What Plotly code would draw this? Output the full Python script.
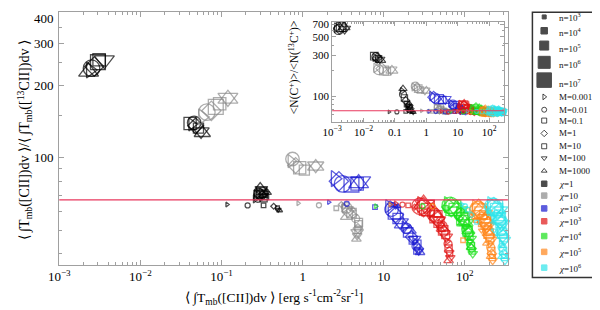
import plotly.graph_objects as go
import numpy as np

# ---------------- data ----------------
M_values = [0.001, 0.01, 0.1, 1, 10, 100, 1000]
n_exponents = [3, 4, 5, 6, 7]
chi_labels = ["1", "10", "10<sup>2</sup>", "10<sup>3</sup>", "10<sup>4</sup>", "10<sup>5</sup>", "10<sup>6</sup>"]
isotope_ratio = 67

# every colour group: 5 clusters (n = 1e7, 1e6, 1e5, 1e4, 1e3), each with the 7 masses in M_values order
cluster_n = [7, 6, 5, 4, 3]

# chi = 1
main_x_chi1 = [0.0024, 0.0025, 0.0030, 0.0027, 0.0031, 0.0036, 0.0023,
               0.043, 0.046, 0.041, 0.048, 0.052, 0.056, 0.058,
               0.27, 0.29, 0.31, 0.30, 0.33, 0.31, 0.30,
               0.26, 0.28, 0.33, 0.32, 0.35, 0.34, 0.36,
               0.117, 0.21, 0.33, 0.44, 0.49, 0.50, 0.52]
main_y_chi1 = [232, 236, 250, 240, 256, 255, 228,
               138, 140, 139, 136, 133, 129, 127,
               70, 71, 72, 70.5, 71, 74, 75,
               67.5, 68, 68, 70, 69, 71, 72,
               64, 63.5, 63.5, 63, 62, 61, 60.5]
ins_x_chi1 = [0.0014, 0.0016, 0.0019, 0.0017, 0.0022, 0.0025, 0.0024,
              0.023, 0.025, 0.022, 0.027, 0.030, 0.033, 0.035,
              0.17, 0.18, 0.20, 0.22, 0.24, 0.28, 0.18,
              0.25, 0.27, 0.30, 0.32, 0.30, 0.26, 0.28,
              0.065, 0.115, 0.22, 0.30, 0.35, 0.38, 0.40]
ins_y_chi1 = [640, 610, 650, 630, 640, 620, 650,
              285, 290, 295, 280, 275, 270, 265,
              115, 105, 95, 88, 80, 74, 122,
              72, 70, 69, 71, 75, 78, 82,
              65, 65, 66, 66, 65, 64, 64]

# chi = 10
main_x_chi10 = [0.058, 0.066, 0.085, 0.075, 0.095, 0.12, 0.12,
                0.72, 0.75, 0.92, 0.82, 1.05, 1.45, 1.45,
                3.3, 3.5, 4.0, 3.6, 4.9, 4.7, 3.5,
                4.3, 4.5, 4.9, 4.8, 4.8, 4.7, 4.6,
                0.88, 1.59, 2.6, 3.0, 3.2, 3.8, 4.2]
main_y_chi10 = [148, 155, 163, 157, 168, 178, 176,
                97, 99, 91, 93, 89, 93, 92,
                62, 62, 59, 60, 54, 49, 57,
                58, 56, 53, 51, 50, 47.5, 46,
                64.8, 63.6, 61.8, 64, 63, 62, 61]
ins_x_chi10 = [0.025, 0.030, 0.045, 0.038, 0.055, 0.075, 0.080,
               0.40, 0.45, 0.55, 0.50, 0.65, 0.90, 1.0,
               2.0, 2.3, 2.8, 2.5, 3.0, 3.2, 3.4,
               3.0, 3.5, 4.0, 4.2, 4.5, 5.0, 5.5,
               0.7, 1.2, 1.6, 2.0, 2.4, 2.6, 2.8]
ins_y_chi10 = [215, 205, 200, 210, 195, 205, 200,
               128, 130, 122, 125, 118, 117, 115,
               75, 73, 72, 70, 70, 68, 67,
               68, 67, 66, 66, 65, 66, 65,
               67, 66, 66, 66, 65, 65, 65]

# chi = 1e2
main_x_chi100 = [2.5, 3.1, 4.0, 2.8, 4.7, 5.2, 4.9,
                 11.5, 12.5, 13.5, 14, 15, 16, 17,
                 18, 19, 20, 22, 23, 24, 21,
                 24, 25, 26, 27, 25.5, 27, 28,
                 2.1, 3.5, 7.8, 12, 13, 14, 15]
main_y_chi100 = [82, 78, 77.5, 80, 78, 80, 78.5,
                 63, 61, 59, 58, 56, 54, 53,
                 52, 51, 49, 47, 45.5, 46, 50,
                 45, 43, 44, 42, 41, 41, 40.5,
                 65.5, 64.5, 62.5, 64.5, 64, 63, 63]
ins_x_chi100 = [1.5, 1.9, 2.5, 1.7, 3.2, 4.0, 3.6,
                6, 7, 8, 7.5, 9, 10, 11,
                10, 11, 12, 12, 13, 14, 12.5,
                13, 14, 15, 16, 17, 18, 19,
                1.2, 2, 4, 6, 8, 9, 10]
ins_y_chi100 = [100, 95, 92, 97, 90, 92, 88,
                82, 80, 78, 76, 75, 74, 72,
                70, 72, 70, 68, 69, 68, 70,
                66, 66, 67, 66, 66, 65, 66,
                66, 66, 65, 66, 65, 66, 65]

# chi = 1e3
main_x_chi1e3 = [29, 28, 34, 31, 35, 32, 31,
                 40, 42, 44, 45, 48, 46, 43,
                 50, 52, 54, 55, 58, 59, 53,
                 60, 62, 63, 64, 65, 66, 63,
                 14, 17, 20, 24, 33, 43, 53]
main_y_chi1e3 = [64, 63, 62, 62.5, 61, 64, 64.5,
                 60, 58, 57, 56, 54, 55, 59,
                 53, 52, 50, 49.5, 48, 47, 51,
                 45, 44, 42, 41, 40, 38.5, 37.5,
                 64.8, 64, 63.5, 62.5, 60, 56, 50]
ins_x_chi1e3 = [13, 14, 15, 16, 17, 18, 16,
                18, 20, 22, 24, 26, 25, 22,
                25, 28, 30, 32, 35, 34, 30,
                35, 38, 40, 42, 45, 48, 40,
                3, 5, 8, 12, 15, 20, 25]
ins_y_chi1e3 = [78, 76, 78, 75, 77, 74, 79,
                72, 72, 70, 70, 70, 68, 68,
                67, 68, 66, 67, 66, 65, 68,
                65, 66, 65, 66, 65, 65, 64,
                66, 65, 66, 65, 65, 65, 65]

# chi = 1e4
main_x_chi1e4 = [62, 66, 72, 68, 76, 82, 79,
                 86, 90, 94, 93, 98, 102, 100,
                 104, 106, 108, 110, 113, 116, 111,
                 114, 117, 119, 121, 123, 125, 119,
                 8, 30, 58, 88, 98, 108, 113]
main_y_chi1e4 = [64, 63.5, 62, 62.5, 61, 60, 61.5,
                 59, 58, 56, 57, 55, 53.5, 54,
                 52, 50.5, 49.5, 48.5, 47.5, 46, 50,
                 45, 44, 43, 42, 41, 40, 42.5,
                 63, 63, 62, 56, 52, 48, 46]
ins_x_chi1e4 = [30, 35, 40, 38, 45, 50, 48,
                50, 55, 60, 58, 65, 70, 68,
                70, 75, 80, 85, 90, 95, 85,
                95, 100, 105, 110, 115, 120, 110,
                6, 15, 30, 45, 55, 65, 75]
ins_y_chi1e4 = [70, 70, 69, 71, 68, 68, 70,
                67, 67, 66, 68, 66, 66, 67,
                66, 65, 65, 66, 65, 65, 64,
                64, 65, 64, 65, 64, 64, 66,
                66, 65, 65, 65, 64, 64, 64]

# chi = 1e5
main_x_chi1e5 = [138, 145, 152, 148, 158, 165, 155,
                 165, 170, 175, 180, 183, 186, 178,
                 188, 192, 196, 200, 204, 208, 195,
                 205, 208, 212, 215, 218, 220, 210,
                 12, 40, 95, 120, 135, 160, 180]
main_y_chi1e5 = [62, 61, 60, 61.5, 59, 58, 60.5,
                 57, 56, 55, 54, 53, 52, 55.5,
                 51, 50, 48.5, 47.5, 46.5, 45.5, 49,
                 44, 42.5, 41, 40, 38.5, 37.5, 39,
                 64, 63, 45.5, 58, 55, 50, 44]
ins_x_chi1e5 = [60, 70, 80, 75, 90, 100, 95,
                100, 110, 120, 115, 130, 140, 125,
                140, 150, 160, 170, 180, 190, 165,
                190, 200, 210, 220, 230, 240, 215,
                10, 25, 50, 70, 90, 110, 130]
ins_y_chi1e5 = [66, 66, 65, 67, 65, 65, 66,
                66, 65, 66, 65, 65, 64, 64,
                65, 65, 64, 65, 64, 64, 66,
                65, 64, 64, 65, 64, 64, 63,
                66, 65, 65, 64, 64, 64, 64]

# chi = 1e6
main_x_chi1e6 = [212, 222, 236, 228, 246, 254, 242,
                 250, 258, 265, 272, 278, 284, 262,
                 272, 280, 288, 294, 300, 306, 284,
                 280, 288, 296, 302, 308, 312, 292,
                 92, 100, 108, 120, 140, 230, 290]
main_y_chi1e6 = [64, 63, 62, 62.5, 61, 60, 61.5,
                 58, 57, 56, 55, 54, 53, 55.5,
                 51, 50, 48.5, 47.5, 46.5, 45.5, 49,
                 44, 42.5, 41, 40, 38.5, 37.5, 39,
                 64, 63, 61, 58, 54, 50, 43]
ins_x_chi1e6 = [100, 120, 140, 130, 160, 180, 150,
                170, 190, 210, 200, 230, 250, 220,
                220, 240, 260, 250, 270, 280, 260,
                240, 255, 265, 275, 285, 290, 270,
                20, 40, 60, 80, 100, 130, 160]
ins_y_chi1e6 = [67, 67, 66, 67, 66, 66, 67,
                66, 66, 65, 67, 65, 66, 66,
                66, 65, 66, 65, 65, 66, 64,
                65, 64, 65, 64, 65, 64, 66,
                66, 66, 65, 65, 65, 65, 65]

main_x_groups = [main_x_chi1, main_x_chi10, main_x_chi100, main_x_chi1e3, main_x_chi1e4, main_x_chi1e5, main_x_chi1e6]
main_y_groups = [main_y_chi1, main_y_chi10, main_y_chi100, main_y_chi1e3, main_y_chi1e4, main_y_chi1e5, main_y_chi1e6]
ins_x_groups = [ins_x_chi1, ins_x_chi10, ins_x_chi100, ins_x_chi1e3, ins_x_chi1e4, ins_x_chi1e5, ins_x_chi1e6]
ins_y_groups = [ins_y_chi1, ins_y_chi10, ins_y_chi100, ins_y_chi1e3, ins_y_chi1e4, ins_y_chi1e5, ins_y_chi1e6]

main_x_ticks = [1e-3, 1e-2, 1e-1, 1, 10, 100]
main_x_text = ["10<sup>−3</sup>", "10<sup>−2</sup>", "10<sup>−1</sup>", "1", "10", "10<sup>2</sup>"]
main_y_ticks = [100, 200, 300, 400]
ins_x_text = ["10<sup>−3</sup>", "10<sup>−2</sup>", "0.1", "1", "10", "10<sup>2</sup>"]
ins_y_ticks = [100, 300, 500, 700]

# ---------------- styles ----------------
W, H = 600, 310
OFF = 8  # page body margin compensation
FONT = "Liberation Serif"
chi_colors = ["#000000", "#8a8a8a", "#1818d0", "#e01414", "#18e018", "#ff8418", "#2ee4ea"]
M_symbols = {0.001: "triangle-right-open", 0.01: "circle-open", 0.1: "square-open", 1: "diamond-open",
             10: "square-open", 100: "triangle-down-open", 1000: "triangle-up-open"}
M_scale = {0.001: 0.85, 0.01: 1.0, 0.1: 0.9, 1: 0.9, 10: 0.75, 100: 1.05, 1000: 1.05}
n_size_main = {3: 5, 4: 8, 5: 10.5, 6: 13.5, 7: 16.5}
n_size_ins = {3: 4, 4: 5.5, 5: 7, 6: 8.5, 7: 10}
axis_grey = "#a0a0a0"
line_red = "#e8385e"

pt_M = [m for _ in cluster_n for m in M_values]
pt_n = [n for n in cluster_n for _ in M_values]


def px_x(p):
    return min(0.999, max(0.0, (p - OFF) / W))


def px_y(p):
    return min(0.999, max(0.0, 1 - (p - OFF) / H))


fig = go.Figure()

main_xr = [-3, 2.53]
main_yr = [np.log10(36), np.log10(403)]
ins_xr = [-3, 2.47]

for k in range(len(chi_labels)):
    for xs, ys, sizes, ax, ay, lw in [
        (main_x_groups[k], main_y_groups[k], n_size_main, "x", "y", 1.3),
        (ins_x_groups[k], ins_y_groups[k], n_size_ins, "x2", "y2", 1.1),
    ]:
        fig.add_trace(go.Scatter(
            x=xs, y=ys, mode="markers", xaxis=ax, yaxis=ay, showlegend=False, cliponaxis=False,
            marker=dict(symbol=[M_symbols[m] for m in pt_M],
                        size=[sizes[n] * M_scale[m] for m, n in zip(pt_M, pt_n)],
                        color=chi_colors[k], line=dict(color=chi_colors[k], width=lw)),
        ))

# reference ratio lines
fig.add_shape(type="line", xref="x domain", x0=0, x1=1, yref="y", y0=isotope_ratio, y1=isotope_ratio,
              line=dict(color=line_red, width=1.2), layer="above")
fig.add_shape(type="line", xref="x2 domain", x0=0, x1=1, yref="y2", y0=isotope_ratio, y1=isotope_ratio,
              line=dict(color=line_red, width=1.1), layer="above")

# ---------------- hand-made legend ----------------
leg_left, leg_right, leg_top, leg_bot = 531, 599, 3, 277
leg_rows_y = [13, 27, 42, 59, 77, 94, 107, 118, 131, 144, 156, 169, 182, 194, 207, 220, 235, 251, 267]
leg_text_dy = [0, 1, 2, 2, 3] + [0] * 14
leg_sym = (["square"] * 5 + [M_symbols[m] for m in M_values] + ["square"] * 7)
leg_size = [4, 6.5, 9, 12, 14.5] + [5] * 7 + [5.5] * 7
leg_col = ["#000000"] * 12 + chi_colors
leg_txt = ["n=10<sup>%d</sup>" % n for n in n_exponents] + ["M=%g" % m for m in M_values] + \
          ["<i>χ</i>=%s" % c for c in chi_labels]

fig.add_trace(go.Scatter(
    x=[543 - OFF] * len(leg_rows_y), y=[r - OFF for r in leg_rows_y], mode="markers", xaxis="x3", yaxis="y3",
    showlegend=False, hoverinfo="skip", cliponaxis=False,
    marker=dict(symbol=leg_sym, size=leg_size, color=leg_col, line=dict(color=leg_col, width=1)),
))
for t, yy, dy in zip(leg_txt, leg_rows_y, leg_text_dy):
    fig.add_annotation(x=556 - OFF, y=yy + dy - OFF, xref="x3", yref="y3", text=t, showarrow=False,
                       xanchor="left", yanchor="middle", font=dict(family=FONT, size=9, color="#111"))
fig.add_shape(type="rect", xref="paper", yref="paper", x0=px_x(leg_left), x1=px_x(leg_right),
              y0=px_y(leg_bot), y1=px_y(leg_top), line=dict(color="#333", width=1.5))

# ---------------- axes ----------------
def minor_vals(lo, hi):
    out = []
    for e in range(lo, hi + 1):
        for m in range(2, 10):
            out.append(m * 10 ** e)
    return out


common = dict(showgrid=False, zeroline=False, linecolor=axis_grey, linewidth=1, mirror="ticks",
              ticks="inside", tickcolor=axis_grey, ticklen=5, tickwidth=1, ticklabeloverflow="allow")

fig.update_layout(
    width=W, height=H, autosize=False, margin=dict(l=0, r=0, t=0, b=0, pad=0),
    paper_bgcolor="white", plot_bgcolor="rgba(0,0,0,0)", showlegend=False,
    font=dict(family=FONT, color="black"),
    xaxis=dict(type="log", range=main_xr, domain=[px_x(49), px_x(506)], anchor="y",
               tickvals=main_x_ticks, ticktext=main_x_text, tickfont=dict(size=13),
               minor=dict(tickvals=minor_vals(-3, 2), ticks="inside", ticklen=3, tickcolor=axis_grey),
               **common),
    yaxis=dict(type="log", range=main_yr, domain=[px_y(264), px_y(7)], anchor="x",
               tickmode="array", tickvals=main_y_ticks, showticklabels=False,
               minor=dict(tickvals=[40, 50, 60, 70, 80, 90, 150, 250, 350], ticks="inside", ticklen=3,
                          tickcolor=axis_grey),
               **common),
    xaxis2=dict(type="log", range=ins_xr, domain=[px_x(327), px_x(502)], anchor="y2",
                tickvals=main_x_ticks, ticktext=ins_x_text, tickfont=dict(size=11),
                minor=dict(tickvals=minor_vals(-3, 2), ticks="inside", ticklen=2, tickcolor=axis_grey),
                **{**common, "ticklen": 4}),
    yaxis2=dict(type="log", range=[np.log10(50), np.log10(750)], domain=[px_y(119), px_y(18)], anchor="x2",
                tickvals=ins_y_ticks, ticktext=[str(v) for v in ins_y_ticks], tickfont=dict(size=11),
                minor=dict(tickvals=[60, 70, 80, 90, 200, 400, 600], ticks="inside", ticklen=2,
                           tickcolor=axis_grey),
                **{**common, "ticklen": 4}),
    xaxis3=dict(range=[0, W], domain=[0, 1], visible=False, anchor="y3", fixedrange=True),
    yaxis3=dict(range=[H, 0], domain=[0, 1], visible=False, anchor="x3", fixedrange=True),
)

# main y tick labels (placed at the axis' own log positions)
for v in main_y_ticks:
    fig.add_annotation(xref="paper", yref="y", x=px_x(46), y=np.log10(v), text=str(v), showarrow=False,
                       xanchor="right", yanchor="middle", yshift=-5 if v == max(main_y_ticks) else 0,
                       font=dict(family=FONT, size=13))

# axis titles
fig.add_annotation(xref="paper", yref="paper", x=px_x(268), y=px_y(297),
                   text="⟨ ∫T<sub>mb</sub>([CII])dv ⟩ [erg s<sup>-1</sup>cm<sup>-2</sup>sr<sup>-1</sup>]",
                   showarrow=False, font=dict(family=FONT, size=13.5), xanchor="center", yanchor="middle")
fig.add_annotation(xref="paper", yref="paper", x=px_x(14), y=px_y(138), textangle=-90,
                   text="⟨ ∫T<sub>mb</sub>([CII])dv ⟩/⟨ ∫T<sub>mb</sub>([<sup>13</sup>CII])dv ⟩",
                   showarrow=False, font=dict(family=FONT, size=14), xanchor="center", yanchor="middle")
fig.add_annotation(xref="paper", yref="paper", x=px_x(288), y=px_y(64), textangle=-90,
                   text="<N(C<sup>+</sup>)>/<N(<sup>13</sup>C<sup>+</sup>)>",
                   showarrow=False, font=dict(family=FONT, size=11.5), xanchor="center", yanchor="middle")

fig.write_html("out.html")
